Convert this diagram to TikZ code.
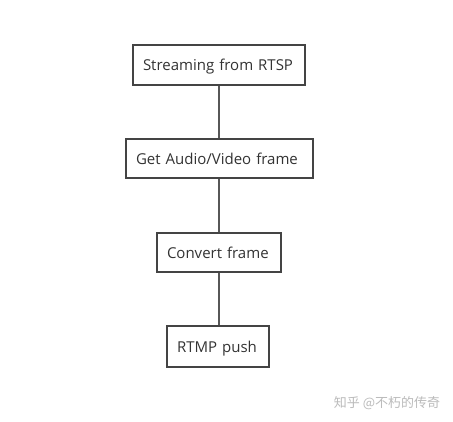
\documentclass[tikz,border=0pt]{standalone}
\usepackage{fontspec}
\setmainfont{Open Sans}
\newfontfamily\cjk{Noto Sans CJK SC}
\definecolor{boxc}{HTML}{444444}
\definecolor{txtc}{HTML}{333333}
\definecolor{wm}{HTML}{BBBBBB}
\begin{document}
\begin{tikzpicture}[x=1pt,y=-1pt,
  flowbox/.style={draw=boxc,line width=1.6pt,rectangle,inner xsep=10pt,inner ysep=0pt,align=left,text=txtc,text depth=0pt,font=\fontsize{15}{17}\selectfont},
  link/.style={draw=boxc!90,line width=1.6pt}]
\useasboundingbox[fill=white] (0,0) rectangle (453,421);
\node[flowbox,text width=152pt,minimum height=40pt] (s) at (219,65) {Streaming from RTSP};
\node[flowbox,text width=167pt,minimum height=39pt] (g) at (219.5,158.5) {Get Audio/Video frame};
\node[flowbox,text width=104pt,minimum height=39pt] (c) at (219,252.5) {Convert frame};
\node[flowbox,text width=82pt,minimum height=41pt] (r) at (218,346.5) {RTMP push};
\draw[link] (s.south -| 219,0) -- (g.north -| 219,0);
\draw[link] (g.south -| 219,0) -- (c.north -| 219,0);
\draw[link] (c.south -| 219,0) -- (r.north -| 219,0);
\node[text=wm,font=\cjk\fontsize{13}{15}\selectfont,inner sep=0pt] (w) at (387,403) {知乎 @不朽的传奇};
\end{tikzpicture}
\end{document}
